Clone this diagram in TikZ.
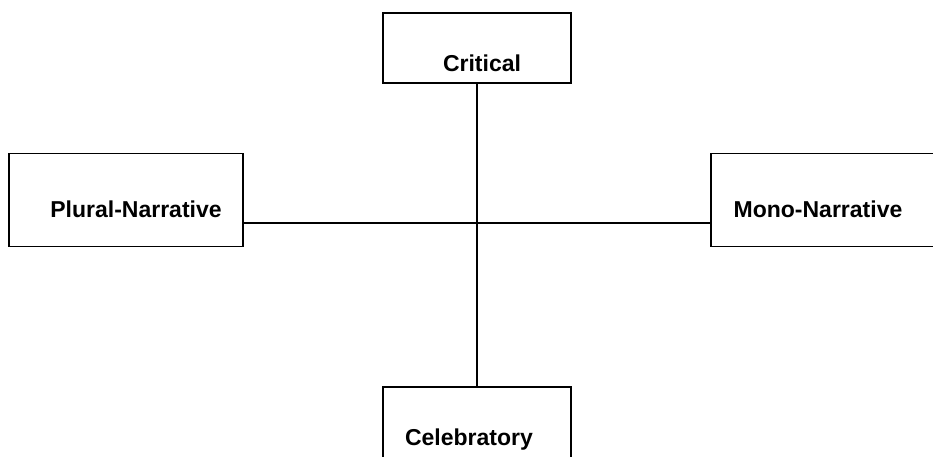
\documentclass[tikz,border=0pt]{standalone}
\usepackage{fontspec}
\setmainfont{Liberation Sans}
\usetikzlibrary{positioning}

\begin{document}
\begin{tikzpicture}[
x=1pt, y=1pt,
pole/.style={draw, line width=1.8pt, rectangle, inner sep=0pt},
lbl/.style={font=\bfseries\fontsize{23}{26}\selectfont, anchor=base, inner sep=0pt},
axis/.style={line width=1.8pt}
]
\useasboundingbox (0,0) rectangle (933,456);
\clip (0,0) rectangle (933,456);

\node[pole, minimum width=188pt, minimum height=70pt] (crit) at (477,408) {};
\node[pole, minimum width=234pt, minimum height=93pt] (plural) at (126,256) {};
\node[pole, minimum width=234pt, minimum height=93pt] (mono) at (828,256) {};
\node[pole, minimum width=188pt, minimum height=76pt] (celeb) at (477,31) {};

\node[lbl] (critt) at ([shift={(5,-24)}]crit.center) {Critical};
\node[lbl] (pluralt) at ([shift={(10,-17)}]plural.center) {Plural-Narrative};
\node[lbl] (monot) at ([shift={(-10,-17)}]mono.center) {Mono-Narrative};
\node[lbl] (celebt) at ([shift={(-8,-20)}]celeb.center) {Celebratory};

\coordinate (hmid) at (477,233);
\draw[axis] (crit.south) -- (celeb.north);
\draw[axis] (plural.east |- hmid) -- (mono.west |- hmid);
\end{tikzpicture}
\end{document}
